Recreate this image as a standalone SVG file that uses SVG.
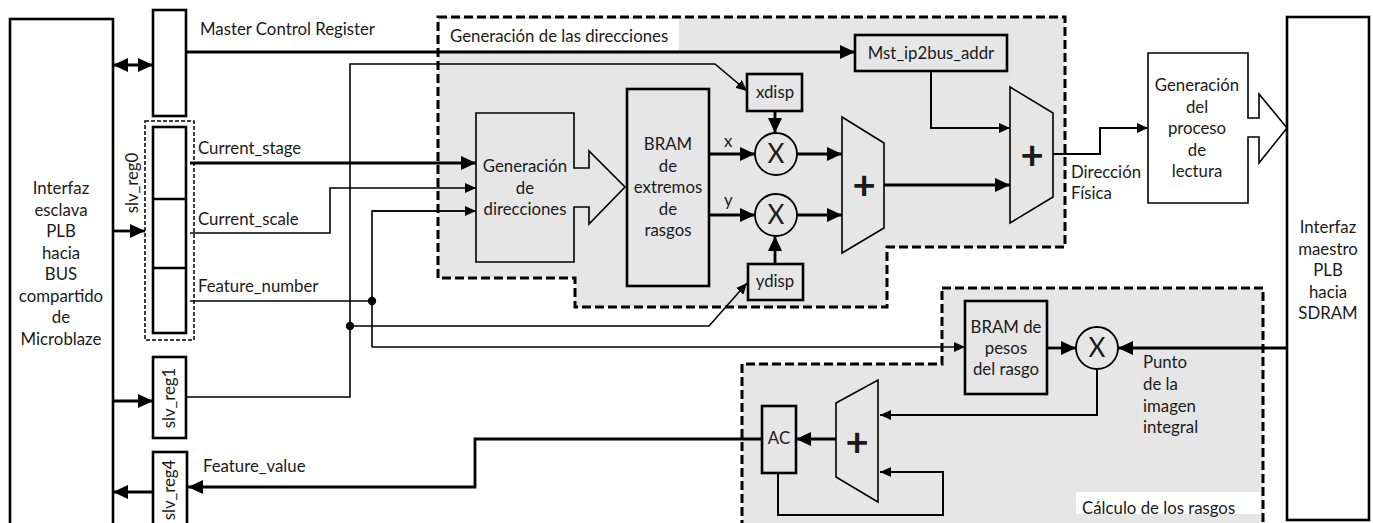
<svg xmlns="http://www.w3.org/2000/svg" width="1373" height="523" viewBox="0 0 1373 523">
<style>
text{font-family:Lato,"Liberation Sans",sans-serif;font-size:16.8px;fill:#1a1a1a}
.c{text-anchor:middle}
.big{font-size:26px}
.plus{font-size:40px;font-weight:bold}
.box{fill:#fff;stroke:#000;stroke-width:2.6}
.gbox{fill:#e6e6e6;stroke:#000;stroke-width:2.6}
.tbox{fill:#e6e6e6;stroke:#000;stroke-width:1.6}
.wbox{fill:#fff;stroke:#000;stroke-width:1.6}
.region{fill:#e6e6e6;stroke:#000;stroke-width:3;stroke-dasharray:9 4}
.thick{fill:none;stroke:#000;stroke-width:2.8}
.thin{fill:none;stroke:#000;stroke-width:1.6}
.mid{fill:none;stroke:#000;stroke-width:2}
</style>
<defs>
<marker id="ab" markerUnits="userSpaceOnUse" markerWidth="16" markerHeight="14" refX="15" refY="7" orient="auto-start-reverse"><path d="M0,0 L15,7 L0,14 z" fill="#000"/></marker>
<marker id="as" markerUnits="userSpaceOnUse" markerWidth="12" markerHeight="10" refX="11" refY="5" orient="auto"><path d="M0,0 L11,5 L0,10 z" fill="#000"/></marker>
</defs>

<g id="region-direcciones">
<polygon class="region" points="438,17 1065,17 1065,247 887,247 887,307 575,307 575,278 438,278"/>
<rect x="440" y="19" width="239" height="31" fill="#fff"/>
<text x="450" y="42">Generación de las direcciones</text>
</g>
<g id="region-calculo">
<polygon class="region" points="942,288 1263,288 1263,540 742,540 742,364 942,364"/>
<rect x="1076" y="492" width="185" height="22" fill="#fff"/>
<text x="1082" y="514">Cálculo de los rasgos</text>
</g>

<g id="connectors">
<line class="thick" x1="113" y1="65" x2="153" y2="65" marker-start="url(#ab)" marker-end="url(#ab)"/>
<line class="thick" x1="113" y1="231" x2="145" y2="231" marker-end="url(#ab)"/>
<line class="thick" x1="113" y1="401" x2="153" y2="401" marker-end="url(#ab)"/>
<line class="thick" x1="153" y1="492" x2="113" y2="492" marker-end="url(#ab)"/>
<line class="thick" x1="186" y1="52" x2="855" y2="52" marker-end="url(#ab)"/>
<line class="thick" x1="190" y1="163" x2="476" y2="163" marker-end="url(#ab)"/>
<polyline class="thin" points="190,233 330,233 330,188 476,188" marker-end="url(#as)"/>
<polyline class="thin" points="190,301 372,301"/>
<polyline class="thin" points="476,211 372,211 372,347"/>
<line class="thin" x1="372" y1="211" x2="476" y2="211" marker-end="url(#as)"/>
<line class="thin" x1="372" y1="347" x2="965" y2="347" marker-end="url(#as)"/>
<polyline class="thin" points="186,397 350,397 350,64 715,64 747,91" marker-end="url(#as)"/>
<polyline class="thin" points="350,326 709,326 747,283" marker-end="url(#as)"/>
<circle cx="372" cy="301" r="4.2" fill="#000"/>
<circle cx="350" cy="326" r="4.2" fill="#000"/>
<line class="thick" x1="709" y1="154" x2="755" y2="154" marker-end="url(#ab)"/>
<line class="thick" x1="709" y1="215" x2="755" y2="215" marker-end="url(#ab)"/>
<line class="thick" x1="775" y1="111" x2="775" y2="133" marker-end="url(#ab)"/>
<line class="thick" x1="775" y1="264" x2="775" y2="236" marker-end="url(#ab)"/>
<line class="thick" x1="797" y1="154" x2="842" y2="154" marker-end="url(#ab)"/>
<line class="thick" x1="797" y1="215" x2="842" y2="215" marker-end="url(#ab)"/>
<line class="thick" x1="884" y1="185" x2="1010" y2="185" marker-end="url(#ab)"/>
<polyline class="mid" points="931,71 931,128 1010,128" marker-end="url(#as)"/>
<polyline class="mid" points="1053,154 1100,154 1100,128 1148,128" marker-end="url(#as)"/>
<line class="thick" x1="1287" y1="348" x2="1118" y2="348" marker-end="url(#ab)"/>
<line class="thick" x1="1047" y1="348" x2="1076" y2="348" marker-end="url(#ab)"/>
<polyline class="mid" points="1097,369 1097,415 880,415" marker-end="url(#as)"/>
<polyline class="mid" points="778,473 778,515 943,515 943,472 880,472" marker-end="url(#as)"/>
<line class="thick" x1="836" y1="439" x2="796" y2="439" marker-end="url(#ab)"/>
<polyline class="thick" points="762,439 475,439 475,487 188,487" marker-end="url(#ab)"/>
</g>

<g id="interfaz-esclava">
<rect class="box" x="10" y="19" width="103" height="530"/>
<text class="c" x="61" y="194">Interfaz</text>
<text class="c" x="61" y="215.5">esclava</text>
<text class="c" x="61" y="237">PLB</text>
<text class="c" x="61" y="258.5">hacia</text>
<text class="c" x="61" y="280">BUS</text>
<text class="c" x="61" y="301.5">compartido</text>
<text class="c" x="61" y="323">de</text>
<text class="c" x="61" y="344.5">Microblaze</text>
</g>

<g id="master-control-register">
<rect class="box" x="153" y="10" width="33" height="106"/>
<text x="200" y="35">Master Control Register</text>
</g>

<g id="slv_reg0">
<rect x="145" y="121" width="49" height="219" fill="none" stroke="#000" stroke-width="1.5" stroke-dasharray="4 2"/>
<rect class="box" x="153" y="127" width="33" height="206"/>
<line x1="153" y1="199" x2="186" y2="199" stroke="#000" stroke-width="2.6"/>
<line x1="153" y1="268" x2="186" y2="268" stroke="#000" stroke-width="2.6"/>
<text class="c" transform="translate(138,183) rotate(-90)">slv_reg0</text>
<text x="198" y="154">Current_stage</text>
<text x="198" y="225">Current_scale</text>
<text x="198" y="292">Feature_number</text>
</g>

<g id="slv_reg1">
<rect class="box" x="153" y="357" width="33" height="81"/>
<text class="c" transform="translate(175,398) rotate(-90)">slv_reg1</text>
</g>

<g id="slv_reg4">
<rect class="box" x="153" y="452" width="34" height="90"/>
<text class="c" transform="translate(175,490) rotate(-90)">slv_reg4</text>
<text x="203" y="472">Feature_value</text>
</g>

<g id="generacion-direcciones">
<polygon class="tbox" points="476,113 574,113 574,168 589,168 589,151 625,187 589,224 589,207 574,207 574,262 476,262"/>
<text class="c" x="525" y="172">Generación</text>
<text class="c" x="525" y="193.5">de</text>
<text class="c" x="525" y="215">direcciones</text>
</g>

<g id="bram-extremos">
<rect class="gbox" x="627" y="89" width="82" height="197"/>
<text class="c" x="668" y="150">BRAM</text>
<text class="c" x="668" y="172">de</text>
<text class="c" x="668" y="193">extremos</text>
<text class="c" x="668" y="215">de</text>
<text class="c" x="668" y="236">rasgos</text>
<text x="724" y="147">x</text>
<text x="724" y="206">y</text>
</g>

<g id="xdisp">
<rect class="gbox" x="747" y="74" width="55" height="37"/>
<text class="c" x="775" y="98">xdisp</text>
</g>
<g id="ydisp">
<rect class="gbox" x="748" y="264" width="55" height="36"/>
<text class="c" x="775" y="287">ydisp</text>
</g>

<g id="mult-x">
<circle cx="776" cy="154" r="21" fill="none" stroke="#000" stroke-width="1.8"/>
<text class="c big" x="776" y="163">X</text>
</g>
<g id="mult-y">
<circle cx="776" cy="215" r="21" fill="none" stroke="#000" stroke-width="1.8"/>
<text class="c big" x="776" y="224">X</text>
</g>

<g id="adder-1">
<polygon class="tbox" points="842,117 884,143 884,228 842,253"/>
<text class="c plus" x="864" y="199">+</text>
</g>

<g id="mst-ip2bus-addr">
<rect class="gbox" x="855" y="35" width="152" height="36"/>
<text class="c" x="931" y="59">Mst_ip2bus_addr</text>
</g>

<g id="adder-2">
<polygon class="tbox" points="1010,87 1053,113 1053,197 1010,223"/>
<text class="c plus" x="1032" y="169">+</text>
<text x="1071" y="178">Dirección</text>
<text x="1071" y="199">Física</text>
</g>

<g id="generacion-lectura">
<polygon class="wbox" points="1148,53 1248,53 1248,118 1259,118 1259,94 1287,128 1259,163 1259,137 1248,137 1248,203 1148,203"/>
<text class="c" x="1197" y="91">Generación</text>
<text class="c" x="1197" y="112.5">del</text>
<text class="c" x="1197" y="134">proceso</text>
<text class="c" x="1197" y="155.5">de</text>
<text class="c" x="1197" y="177">lectura</text>
</g>

<g id="interfaz-maestro">
<rect class="box" x="1287" y="17" width="82" height="503"/>
<text class="c" x="1328" y="233">Interfaz</text>
<text class="c" x="1328" y="254.5">maestro</text>
<text class="c" x="1328" y="276">PLB</text>
<text class="c" x="1328" y="297.5">hacia</text>
<text class="c" x="1328" y="319">SDRAM</text>
</g>

<g id="bram-pesos">
<rect class="gbox" x="965" y="301" width="82" height="93"/>
<text class="c" x="1006" y="333">BRAM de</text>
<text class="c" x="1006" y="354">pesos</text>
<text class="c" x="1006" y="375">del rasgo</text>
</g>

<g id="mult-pesos">
<circle cx="1097" cy="348" r="21" fill="none" stroke="#000" stroke-width="1.8"/>
<text class="c big" x="1097" y="357">X</text>
<text x="1143" y="368">Punto</text>
<text x="1143" y="390">de la</text>
<text x="1143" y="412">imagen</text>
<text x="1143" y="433">integral</text>
</g>

<g id="adder-3">
<polygon class="tbox" points="836,403 878,380 878,502 836,477"/>
<text class="c plus" x="857" y="456">+</text>
</g>

<g id="ac">
<rect class="gbox" x="762" y="406" width="34" height="67"/>
<text class="c" x="779" y="444">AC</text>
</g>
</svg>
